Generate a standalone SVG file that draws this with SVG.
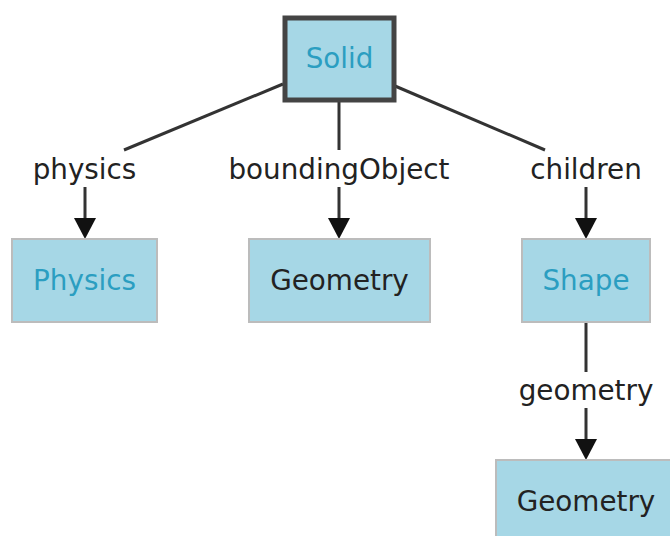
<svg xmlns="http://www.w3.org/2000/svg" width="670" height="536" viewBox="0 0 670 536">
<style>
.box{fill:#a6d7e6;stroke:#bcbcbc;stroke-width:2}
.root{fill:#a6d7e6;stroke:#444;stroke-width:5}
.t{font-family:"DejaVu Sans",Verdana,sans-serif;font-size:27.8px;text-anchor:middle}
.link{fill:#2b9ec1}
.dark{fill:#222}
.edge{stroke:#333;stroke-width:3;fill:none}
.head{fill:#111}
</style>
<rect width="670" height="536" fill="#fff"/>
<g id="connectors">
<path class="edge" d="M283,84 L124,150"/>
<path class="edge" d="M85,187 L85,218"/>
<path class="head" d="M74,218 L96,218 L85,239 Z"/>
<path class="edge" d="M339,101 L339,150"/>
<path class="edge" d="M339,187 L339,218"/>
<path class="head" d="M328,218 L350,218 L339,239 Z"/>
<path class="edge" d="M395,86 L545,150"/>
<path class="edge" d="M586,187 L586,218"/>
<path class="head" d="M575,218 L597,218 L586,239 Z"/>
<path class="edge" d="M586,322 L586,372"/>
<path class="edge" d="M586,408 L586,439"/>
<path class="head" d="M575,439 L597,439 L586,460 Z"/>
<text class="t dark" x="84.5" y="179">physics</text>
<text class="t dark" x="339" y="179">boundingObject</text>
<text class="t dark" x="586" y="179">children</text>
<text class="t dark" x="586" y="400">geometry</text>
</g>
<g id="solid">
<rect class="root" x="285" y="18" width="109" height="82"/>
<text class="t link" x="339.5" y="68">Solid</text>
</g>
<g id="physics">
<rect class="box" x="12" y="239" width="145" height="83"/>
<text class="t link" x="84.5" y="290">Physics</text>
</g>
<g id="geometry1">
<rect class="box" x="249" y="239" width="181" height="83"/>
<text class="t dark" x="339.5" y="290">Geometry</text>
</g>
<g id="shape">
<rect class="box" x="522" y="239" width="128" height="83"/>
<text class="t link" x="586" y="290">Shape</text>
</g>
<g id="geometry2">
<rect class="box" x="496" y="460" width="181" height="90"/>
<text class="t dark" x="586" y="511">Geometry</text>
</g>
</svg>
